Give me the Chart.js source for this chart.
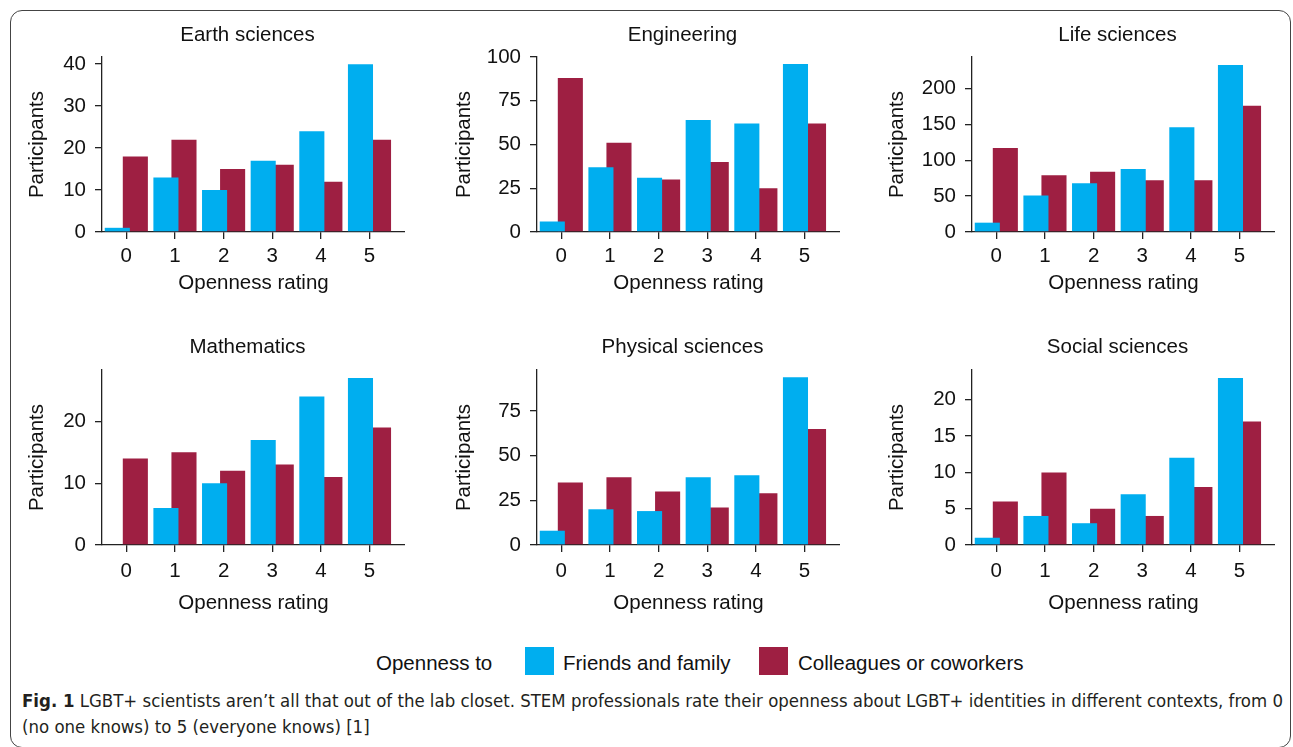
<!DOCTYPE html>
<html>
<head>
<meta charset="utf-8">
<script src="https://cdn.jsdelivr.net/npm/chart.js@4.4.0/dist/chart.umd.min.js"></script>
<style>
  body { margin: 0; background: #fff; width: 1293px; height: 747px; overflow: hidden; position: relative;
         font-family: "Liberation Sans", Arial, Helvetica, sans-serif; color: #111; }
  .frame { position: absolute; left: 10px; top: 10px; width: 1281px; height: 738px;
           border: 1.5px solid #444; border-radius: 12px; box-sizing: border-box; }
  canvas { position: absolute; }
  .lg { position: absolute; font-size: 20.5px; line-height: 24px; white-space: nowrap; }
  .box { position: absolute; width: 29px; height: 28px; }
  .cap { position: absolute; left: 22px; font-family: "Liberation Sans Narrow", "DejaVu Sans Condensed", "Open Sans", sans-serif;
         font-size: 18px; line-height: 26px; color: #231f20; white-space: nowrap; transform-origin: 0 50%; display: inline-block; }
</style>
</head>
<body>
<div class="frame"></div>
<div id="legend"></div>
<div class="cap" id="cap1"><b>Fig. 1</b> LGBT+ scientists aren’t all that out of the lab closet. STEM professionals rate their openness about LGBT+ identities in different contexts, from 0</div>
<div class="cap" id="cap2">(no one knows) to 5 (everyone knows) [1]</div>
<script>
// openness rating 0..5 on the x axis
const ratings = [0, 1, 2, 3, 4, 5];
const fields = ['Earth sciences', 'Engineering', 'Life sciences', 'Mathematics', 'Physical sciences', 'Social sciences'];

const earthFriends = [1, 13, 10, 17, 24, 40];
const earthColleagues = [18, 22, 15, 16, 12, 22];
const engFriends = [6, 37, 31, 64, 62, 96];
const engColleagues = [88, 51, 30, 40, 25, 62];
const lifeFriends = [13, 51, 68, 88, 146, 233];
const lifeColleagues = [117, 79, 84, 72, 72, 176];
const mathFriends = [0, 6, 10, 17, 24, 27];
const mathColleagues = [14, 15, 12, 13, 11, 19];
const physFriends = [8, 20, 19, 38, 39, 94];
const physColleagues = [35, 38, 30, 21, 29, 65];
const socialFriends = [1, 4, 3, 7, 12, 23];
const socialColleagues = [6, 10, 5, 4, 8, 17];

// axis tops and tick steps per panel
const yMax = [41.7, 100, 244, 28.3, 98, 24.1];
const yStep = [10, 25, 50, 10, 25, 5];

const legendTitle = 'Openness to';
const friendsLabel = 'Friends and family';
const colleaguesLabel = 'Colleagues or coworkers';

const friendsByField = [earthFriends, engFriends, lifeFriends, mathFriends, physFriends, socialFriends];
const colleaguesByField = [earthColleagues, engColleagues, lifeColleagues, mathColleagues, physColleagues, socialColleagues];

const BLUE = '#00AEEF';
const RED = '#9E1F42';
const INK = '#111';
const AXIS = '#222';
const FONT = { family: "'Liberation Sans', Arial, Helvetica, sans-serif", size: 20.5, weight: 'normal' };

const colLeft = [0, 435, 870];
const yTitlePad = [24.7, 16.7, 14.7];
const rowTop = [0, 313];
const rowHeight = [296, 303];
const titlePad = [{ top: 22.7, bottom: 9.7 }, { top: 21.7, bottom: 10.7 }];
const xAxisHeight = [64, 71];
const xTickPad = [5, 7];

// nudge the panel title a little left of the plot centre
const titleShift = {
  id: 'titleShift',
  afterLayout(chart) {
    if (chart.titleBlock) chart.titleBlock.left -= 12;
  }
};

fields.forEach((field, i) => {
  const col = i % 3, row = Math.floor(i / 3);
  const cv = document.createElement('canvas');
  cv.width = 405;
  cv.height = rowHeight[row];
  cv.style.left = colLeft[col] + 'px';
  cv.style.top = rowTop[row] + 'px';
  document.body.appendChild(cv);

  new Chart(cv, {
    type: 'bar',
    data: {
      labels: ratings,
      datasets: [
        { label: friendsLabel, data: friendsByField[i], backgroundColor: BLUE,
          categoryPercentage: 0.742, barPercentage: 1.39 },
        { label: colleaguesLabel, data: colleaguesByField[i], backgroundColor: RED,
          categoryPercentage: 0.742, barPercentage: 1.39 }
      ]
    },
    options: {
      responsive: false,
      animation: false,
      layout: { padding: 0 },
      plugins: {
        legend: { display: false },
        tooltip: { enabled: false },
        title: { display: true, text: field, color: INK, font: FONT, fullSize: false, padding: titlePad[row] }
      },
      scales: {
        x: {
          type: 'linear', min: -0.5, max: 5.73, offset: false,
          ticks: { stepSize: 1, includeBounds: false, color: INK, font: FONT, padding: xTickPad[row], maxRotation: 0 },
          grid: { display: true, offset: false, drawOnChartArea: false, drawTicks: true, tickLength: 7, color: AXIS, lineWidth: 1.3 },
          border: { display: true, color: AXIS, width: 1.3 },
          title: { display: true, text: 'Openness rating', color: INK, font: FONT, padding: { top: 0, bottom: 0 } },
          afterFit: s => { s.height = xAxisHeight[row]; }
        },
        y: {
          min: 0, max: yMax[i],
          ticks: { stepSize: yStep[i], includeBounds: false, color: INK, font: FONT, padding: 9 },
          grid: { display: true, drawOnChartArea: false, drawTicks: true, tickLength: 7, color: AXIS, lineWidth: 1.3 },
          border: { display: true, color: AXIS, width: 1.3 },
          title: { display: true, text: 'Participants', color: INK, font: FONT, padding: { top: yTitlePad[col], bottom: 0 } },
          afterFit: s => { s.width = 102; }
        }
      }
    },
    plugins: [titleShift]
  });
});

// legend below the panels
const legend = document.getElementById('legend');
const items = [
  { cls: 'lg', text: legendTitle, left: 376 },
  { cls: 'box', color: BLUE, left: 525 },
  { cls: 'lg', text: friendsLabel, left: 563 },
  { cls: 'box', color: RED, left: 759 },
  { cls: 'lg', text: colleaguesLabel, left: 798 }
];
items.forEach(it => {
  const el = document.createElement('div');
  el.className = it.cls;
  el.style.left = it.left + 'px';
  if (it.text) { el.textContent = it.text; el.style.top = '651px'; }
  else { el.style.background = it.color; el.style.top = '647px'; }
  legend.appendChild(el);
});

// caption: squeeze the condensed text to the figure width
const cap1 = document.getElementById('cap1');
const cap2 = document.getElementById('cap2');
cap1.style.top = '688px';
cap2.style.top = '714px';
const k = 1261 / cap1.getBoundingClientRect().width;
cap1.style.transform = 'scaleX(' + k + ')';
cap2.style.transform = 'scaleX(' + k + ')';
</script>
</body>
</html>
